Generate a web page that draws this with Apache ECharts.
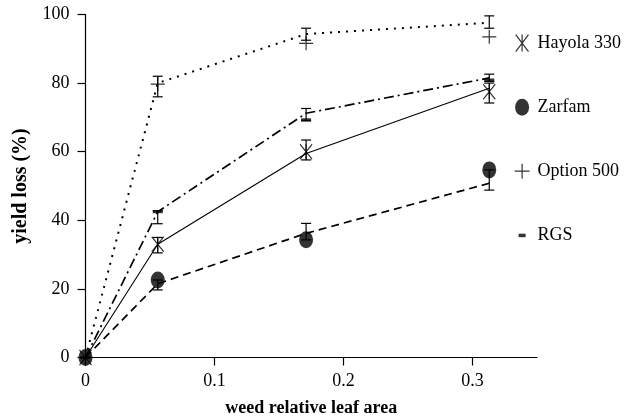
<!DOCTYPE html>
<html><head><meta charset="utf-8">
<script src="https://cdn.jsdelivr.net/npm/echarts@6/dist/echarts.min.js"></script>
<style>html,body{margin:0;padding:0;background:#fff}#c{width:625px;height:417px}</style>
</head><body><div id="c"></div>
<script>
// ---- data ----
const seriesNames = ['Hayola 330', 'Zarfam', 'Option 500', 'RGS'];
const xVals = [0, 0.056, 0.171, 0.313];
const xTickVals = [0, 0.1, 0.2, 0.3];
// observed means (markers)
const hayolaObs = [0, 33, 60, 77.5];
const zarfamObs = [0, 22.6, 34.3, 54.7];
const optionObs = [0, 79.7, 91.6, 93.5];
const rgsObs = [0, 42.5, 69.3, 80.9];
// fitted lines
const hayolaFit = [0, 33, 59.5, 78.5];
const zarfamFit = [0, 21.5, 36.2, 50.8];
const optionFit = [0, 80, 94.3, 97.6];
const rgsFit = [0, 42.5, 71.2, 81.5];
// error bars (low, high)
const hayolaLow = [null, 30.5, 57.6, 74.2];
const hayolaHigh = [null, 35, 63.4, 80];
const zarfamLow = [null, 19.7, 34.3, 48.8];
const zarfamHigh = [null, 22.6, 39.1, 54.7];
const optionLow = [null, 76, 92.5, 96];
const optionHigh = [null, 82, 96, 99.6];
const rgsLow = [null, 39, 69, 80.5];
const rgsHigh = [null, 42.8, 72.6, 82.6];

// ---- helpers ----
const pairs = ys => xVals.map((x, i) => [x, ys[i]]);
const bars = (lo, hi) => xVals.map((x, i) => [x, lo[i], hi[i]]).filter(d => d[1] != null);
const serif = 'Liberation Serif, Times New Roman, serif';

const SYM = {
  asterisk: 'path://M0,0L12,16M12,0L0,16M6,0L6,16',
  plus: 'path://M0,7L14,7M7,0L7,14',
  ellipse: 'path://M0,8.5A7,8.5,0,1,1,14,8.5A7,8.5,0,1,1,0,8.5Z',
  dashIcon: 'path://M0,0M15,17M4,7L11,7L11,10.5L4,10.5Z'
};

function errRender(params, api) {
  const x = api.value(0), lo = api.value(1), hi = api.value(2);
  const a = api.coord([x, lo]), b = api.coord([x, hi]);
  const w = 5, st = { stroke: '#000', lineWidth: 1.2 };
  return { type: 'group', children: [
    { type: 'line', shape: { x1: a[0], y1: a[1], x2: b[0], y2: b[1] }, style: st },
    { type: 'line', shape: { x1: a[0] - w, y1: a[1], x2: a[0] + w, y2: a[1] }, style: st },
    { type: 'line', shape: { x1: b[0] - w, y1: b[1], x2: b[0] + w, y2: b[1] }, style: st }
  ]};
}

const strokeStyle = { color: '#000', borderColor: '#000', borderWidth: 1.2 };
const fillStyle = { color: '#000' };

const defs = [
  { name: 'Hayola 330', obs: hayolaObs, fit: hayolaFit, lo: hayolaLow, hi: hayolaHigh,
    symbol: SYM.asterisk, size: [12, 15], item: strokeStyle, line: { width: 1.1, type: 'solid' } },
  { name: 'Zarfam', obs: zarfamObs, fit: zarfamFit, lo: zarfamLow, hi: zarfamHigh,
    symbol: 'circle', size: [14, 17], item: fillStyle, line: { width: 1.7, type: [8, 5] } },
  { name: 'Option 500', obs: optionObs, fit: optionFit, lo: optionLow, hi: optionHigh,
    symbol: SYM.plus, size: [14, 14], item: strokeStyle, line: { width: 2, type: [2, 6] } },
  { name: 'RGS', obs: rgsObs, fit: rgsFit, lo: rgsLow, hi: rgsHigh,
    symbol: 'rect', size: [10, 3], item: fillStyle, line: { width: 1.7, type: [10, 4, 2, 4] } }
];

const series = [];
defs.forEach(d => {
  series.push({ name: d.name, type: 'scatter', data: pairs(d.obs), symbol: d.symbol,
    symbolSize: d.size, itemStyle: d.item, z: 4 });
});
defs.forEach(d => {
  series.push({ name: d.name, type: 'line', data: pairs(d.fit), symbol: 'none',
    lineStyle: Object.assign({ color: '#000' }, d.line), z: 2 });
  series.push({ name: d.name, type: 'custom', data: bars(d.lo, d.hi), renderItem: errRender,
    encode: { x: 0, y: [1, 2] }, z: 3 });
});

const legendIcons = { 'Hayola 330': SYM.asterisk, 'Zarfam': SYM.ellipse, 'Option 500': SYM.plus, 'RGS': SYM.dashIcon };
const legendStyles = { 'Hayola 330': strokeStyle, 'Zarfam': fillStyle, 'Option 500': strokeStyle, 'RGS': fillStyle };

const chart = echarts.init(document.getElementById('c'), null, { renderer: 'canvas' });
chart.setOption({
  animation: false,
  backgroundColor: '#fff',
  grid: { left: 85.5, right: 88, top: 14.5, bottom: 59.5, containLabel: false, outerBoundsMode: 'none' },
  legend: {
    orient: 'vertical', left: 509, top: 29, itemWidth: 15, itemHeight: 17, itemGap: 46,
    textStyle: { fontFamily: serif, fontSize: 18, color: '#000', padding: [0, 0, 0, 3] },
    data: seriesNames.map(n => ({ name: n, icon: legendIcons[n], itemStyle: legendStyles[n] })),
    selectedMode: false
  },
  xAxis: {
    type: 'value', min: 0, max: 0.35, interval: 0.1,
    name: 'weed relative leaf area', nameLocation: 'middle', nameGap: 42,
    nameTextStyle: { fontFamily: serif, fontSize: 18, fontWeight: 'bold', color: '#000' },
    axisLine: { show: true, lineStyle: { color: '#000', width: 1.2 } },
    axisTick: { show: true, length: 8, lineStyle: { color: '#000', width: 1.2 }, customValues: xTickVals },
    axisLabel: { fontFamily: serif, fontSize: 18, color: '#000', margin: 15, customValues: xTickVals,
      formatter: v => String(v) },
    splitLine: { show: false }
  },
  yAxis: {
    type: 'value', min: 0, max: 100, interval: 20,
    name: 'yield loss (%)', nameLocation: 'middle', nameGap: 55,
    nameTextStyle: { fontFamily: serif, fontSize: 20, fontWeight: 'bold', color: '#000' },
    axisLine: { show: true, lineStyle: { color: '#000', width: 1.2 } },
    axisTick: { show: true, length: 8, lineStyle: { color: '#000', width: 1.2 } },
    axisLabel: { fontFamily: serif, fontSize: 18, color: '#000', margin: 16 },
    splitLine: { show: false }
  },
  series: series
});
</script></body></html>
